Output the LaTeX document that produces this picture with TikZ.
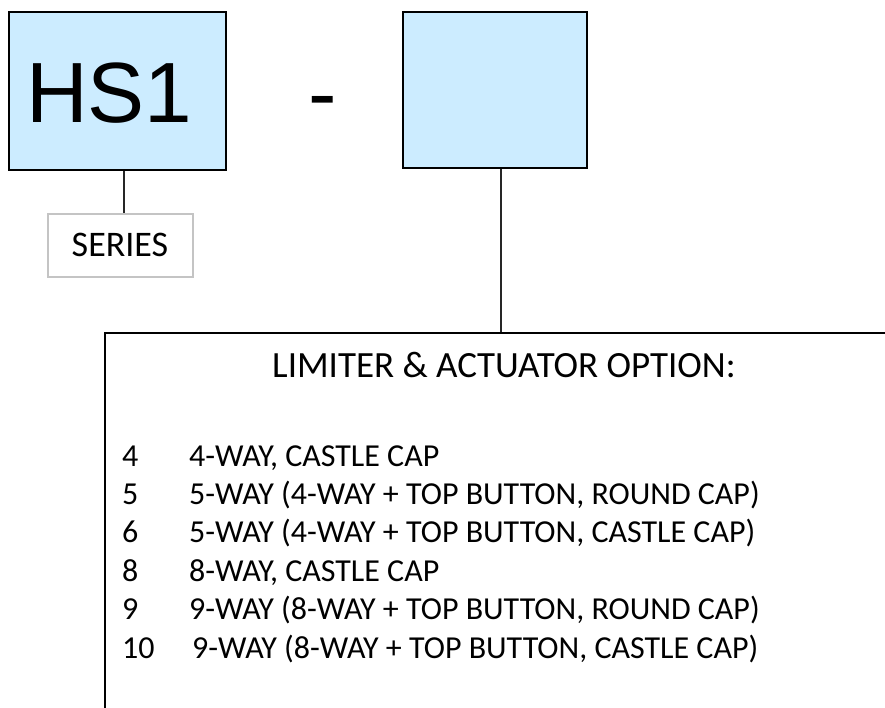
\documentclass[tikz,border=0pt]{standalone}
\usepackage{fontspec}
\setmainfont{Carlito}
\newfontfamily\arialfont{Liberation Sans}
\definecolor{codeblue}{HTML}{CCECFF}
\definecolor{seriesgray}{HTML}{C4C4C4}
\begin{document}
\begin{tikzpicture}[x=1pt, y=-1pt,
        codebox/.style={rectangle, draw=black, line width=2pt, fill=codeblue, inner sep=0pt},
        namebox/.style={rectangle, draw=seriesgray, line width=2pt, fill=white, minimum width=145pt, minimum height=63pt, font=\fontsize{36}{43}\selectfont},
        optbox/.style={rectangle, draw=black, line width=2pt, anchor=north west, minimum width=900pt, minimum height=500pt, inner sep=0pt},
        bigtext/.style={font=\arialfont\fontsize{85.5}{100}\selectfont, inner sep=0pt, anchor=base west},
        titletext/.style={font=\fontsize{37}{44}\selectfont, inner sep=0pt, anchor=base},
        itemtext/.style={font=\fontsize{32}{38}\selectfont, inner sep=0pt, anchor=base west},
        link/.style={line width=1.2pt, draw=black!85}
    ]
        \useasboundingbox (0,0) rectangle (885,707);
        \clip (0,0) rectangle (885,707);

        % Code boxes
        \node[codebox, minimum width=217pt, minimum height=158pt] (hs) at (117.5,91) {};
        \node[bigtext] (hstext) at (26,122) {HS1};
        \node[bigtext] (dash) at (308,122) {-};
        \node[codebox, minimum width=184pt, minimum height=156pt] (sel) at (495,90) {};

        % Series label
        \node[namebox] (ser) at (120,245) {SERIES};

        % Option box
        \node[optbox] (opt) at (104,332) {};
        \node[titletext] (opttitle) at (504,377) {LIMITER \& ACTUATOR OPTION:};
        \foreach \num/\dx/\desc [count=\i from 0] in {
            4/189/{4-WAY, CASTLE CAP},
            5/189/{5-WAY (4-WAY + TOP BUTTON, ROUND CAP)},
            6/189/{5-WAY (4-WAY + TOP BUTTON, CASTLE CAP)},
            8/189/{8-WAY, CASTLE CAP},
            9/189/{9-WAY (8-WAY + TOP BUTTON, ROUND CAP)},
            10/192/{9-WAY (8-WAY + TOP BUTTON, CASTLE CAP)}} {
            \node[itemtext] (num\i) at (122,466+38.4*\i) {\num};
            \node[itemtext] (desc\i) at (\dx,466+38.4*\i) {\desc};
        }

        % Links
        \draw[link] ([xshift=6.5pt]hs.south) -- ([xshift=6.5pt]hs.south |- ser.north);
        \draw[link] ([xshift=6pt]sel.south) -- ([xshift=6pt]sel.south |- opt.north);
\end{tikzpicture}
\end{document}
